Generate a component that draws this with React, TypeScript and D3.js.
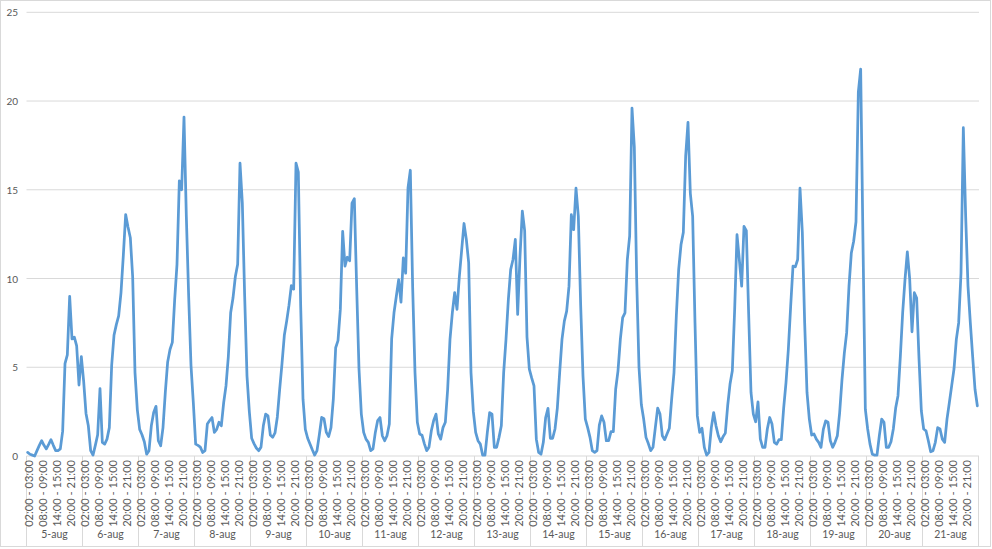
import { line, range, scaleBand, scaleLinear } from "d3";

const dayLabels = [
  "5-aug", "6-aug", "7-aug", "8-aug", "9-aug", "10-aug", "11-aug", "12-aug", "13-aug",
  "14-aug", "15-aug", "16-aug", "17-aug", "18-aug", "19-aug", "20-aug", "21-aug",
];

const hourLabels = [
  "02:00 - 03:00", "03:00 - 04:00", "04:00 - 05:00", "05:00 - 06:00", "06:00 - 07:00", "07:00 - 08:00",
  "08:00 - 09:00", "09:00 - 10:00", "10:00 - 11:00", "11:00 - 12:00", "12:00 - 13:00", "13:00 - 14:00",
  "14:00 - 15:00", "15:00 - 16:00", "16:00 - 17:00", "17:00 - 18:00", "18:00 - 19:00", "19:00 - 20:00",
  "20:00 - 21:00", "21:00 - 22:00", "22:00 - 23:00", "23:00 - 00:00", "00:00 - 01:00", "01:00 - 02:00",
];

const yTicks = [0, 5, 10, 15, 20, 25];

// one array per day, 24 hourly values each
const aug05 = [0.2, 0.1, 0.05, 0.0, 0.3, 0.6, 0.86, 0.6, 0.4, 0.65, 0.92, 0.6, 0.3, 0.3, 0.4, 1.4, 5.2, 5.7, 9.0, 6.6, 6.7, 6.2, 4.0, 5.6];
const aug06 = [4.2, 2.4, 1.7, 0.3, 0.05, 0.6, 1.2, 3.8, 0.77, 0.67, 0.95, 1.6, 5.1, 6.8, 7.4, 7.9, 9.2, 11.3, 13.6, 12.9, 12.3, 10.1, 4.7, 2.6];
const aug07 = [1.5, 1.2, 0.8, 0.1, 0.3, 1.7, 2.45, 2.8, 0.86, 0.58, 1.6, 3.6, 5.3, 6.0, 6.4, 8.8, 10.8, 15.5, 15.0, 19.1, 13.5, 9.0, 5.1, 3.0];
const aug08 = [0.67, 0.6, 0.5, 0.2, 0.3, 1.8, 2.0, 2.17, 1.33, 1.5, 1.9, 1.7, 3.0, 3.95, 5.6, 8.07, 8.9, 10.1, 10.8, 16.5, 14.25, 9.0, 4.5, 2.5];
const aug09 = [1.0, 0.7, 0.45, 0.3, 0.5, 1.7, 2.36, 2.26, 1.18, 1.05, 1.3, 2.2, 3.76, 5.2, 6.8, 7.6, 8.5, 9.6, 9.4, 16.5, 16.0, 8.5, 3.2, 1.5];
const aug10 = [1.0, 0.67, 0.35, 0.05, 0.3, 1.2, 2.17, 2.1, 1.33, 1.1, 1.6, 3.2, 6.1, 6.5, 8.26, 12.66, 10.7, 11.2, 11.0, 14.25, 14.5, 9.5, 4.9, 2.36];
const aug11 = [1.33, 0.95, 0.77, 0.3, 0.4, 1.33, 2.0, 2.17, 1.14, 0.86, 1.14, 1.8, 6.6, 8.07, 9.0, 9.94, 8.67, 11.16, 10.3, 15.1, 16.1, 9.5, 4.7, 1.9];
const aug12 = [1.24, 1.17, 0.7, 0.3, 0.5, 1.42, 2.0, 2.36, 1.24, 0.95, 1.6, 1.9, 3.76, 6.57, 8.07, 9.2, 8.26, 10.1, 11.6, 13.1, 12.2, 10.9, 4.7, 2.5];
const aug13 = [1.33, 0.86, 0.67, 0.05, 0.05, 1.33, 2.45, 2.36, 0.49, 0.49, 1.05, 1.7, 4.7, 6.57, 8.8, 10.5, 11.07, 12.2, 7.98, 11.25, 13.8, 12.7, 6.7, 4.9];
const aug14 = [4.4, 3.95, 0.95, 0.2, 0.1, 0.77, 2.17, 2.68, 1.0, 1.0, 1.52, 2.7, 4.7, 6.57, 7.6, 8.16, 9.57, 13.6, 12.75, 15.1, 13.5, 8.5, 4.5, 2.08];
const aug15 = [1.6, 1.05, 0.3, 0.2, 0.3, 1.74, 2.26, 1.9, 0.86, 0.86, 1.37, 1.37, 3.76, 4.8, 6.57, 7.8, 8.07, 11.07, 12.4, 19.6, 17.4, 10.0, 5.0, 2.9];
const aug16 = [2.08, 1.05, 0.7, 0.3, 0.49, 1.6, 2.7, 2.36, 1.14, 0.92, 1.24, 1.56, 3.2, 4.7, 7.9, 10.5, 11.9, 12.6, 16.9, 18.8, 14.8, 13.5, 7.5, 2.26];
const aug17 = [1.33, 1.56, 0.49, 0.05, 0.2, 1.6, 2.45, 1.7, 1.14, 0.8, 1.08, 1.29, 2.83, 4.04, 4.8, 8.26, 12.47, 11.07, 9.57, 12.94, 12.7, 8.0, 3.58, 2.36];
const aug18 = [1.93, 3.05, 0.95, 0.49, 0.49, 1.52, 2.17, 1.8, 0.77, 0.67, 0.92, 0.92, 2.7, 4.14, 6.0, 8.44, 10.7, 10.66, 11.07, 15.1, 12.6, 7.5, 3.58, 2.08];
const aug19 = [1.18, 1.24, 0.95, 0.77, 0.49, 1.5, 1.98, 1.9, 0.86, 0.49, 0.77, 1.14, 2.45, 4.3, 5.8, 6.95, 9.57, 11.44, 12.1, 13.2, 20.5, 21.8, 12.0, 2.64];
const aug20 = [1.52, 0.67, 0.1, 0.05, 0.05, 1.14, 2.08, 1.9, 0.49, 0.49, 0.8, 1.52, 2.7, 3.4, 5.6, 8.07, 9.94, 11.5, 10.0, 7.0, 9.2, 8.9, 5.5, 2.55];
const aug21 = [1.52, 1.42, 0.86, 0.24, 0.3, 0.77, 1.6, 1.52, 0.95, 0.77, 2.08, 3.0, 3.95, 4.9, 6.57, 7.5, 10.3, 18.5, 13.5, 9.57, 7.5, 5.6, 3.76, 2.83];

const days = [aug05, aug06, aug07, aug08, aug09, aug10, aug11, aug12, aug13, aug14, aug15, aug16, aug17, aug18, aug19, aug20, aug21];

const WIDTH = 992;
const HEIGHT = 549;
const left = 26.5;
const right = 978.5;
const top = 12.3;
const bottom = 456;
const textColor = "#595959";
const gridColor = "#d9d9d9";
const font = "Lato, 'Open Sans', sans-serif";

const App = () => {
  const series = days.flat();
  const perDay = hourLabels.length;

  const x = scaleBand<number>()
    .domain(range(series.length))
    .range([left, right]);
  const xDay = scaleBand<string>().domain(dayLabels).range([left, right]);
  const y = scaleLinear().domain([0, 25]).range([bottom, top]);

  const path = line<number>()
    .x((_, i) => (x(i) ?? 0) + x.bandwidth() / 2)
    .y((d) => y(d))(series);

  return (
    <div style={{ position: "fixed", left: 0, top: 0, background: "#fff" }}>
      <svg width={WIDTH} height={HEIGHT} style={{ display: "block" }}>
        <rect x={0.5} y={0.5} width={990} height={546} fill="#fff" stroke={gridColor} />

        {yTicks.map((t) => (
          <g key={t}>
            <line x1={left} x2={right + 0.5} y1={y(t)} y2={y(t)} stroke={gridColor} strokeWidth={1} />
            <text
              x={18}
              y={y(t)}
              textAnchor="end"
              dominantBaseline="central"
              fontFamily={font}
              fontSize={10}
              fill={textColor}
            >
              {t}
            </text>
          </g>
        ))}

        {/* day separators */}
        {dayLabels.map((d) => (
          <line
            key={d}
            x1={xDay(d)}
            x2={xDay(d)}
            y1={bottom}
            y2={546}
            stroke={gridColor}
          />
        ))}
        <line x1={right} x2={right} y1={bottom} y2={546} stroke={gridColor} />

        {/* hour labels */}
        {series.map((_, i) =>
          i % 6 === 0 ? (
            <text
              key={i}
              transform={`translate(${(x(i) ?? 0) + x.bandwidth() / 2 + 0.5},${bottom + 4}) rotate(-90)`}
              textAnchor="end"
              dominantBaseline="central"
              fontFamily={font}
              fontSize={11.1}
              fill={textColor}
            >
              {hourLabels[i % perDay]}
            </text>
          ) : null
        )}

        {/* day labels */}
        {dayLabels.map((d) => (
          <text
            key={d}
            x={(xDay(d) ?? 0) + xDay.bandwidth() / 2}
            y={538}
            textAnchor="middle"
            fontFamily={font}
            fontSize={10.5}
            fill={textColor}
          >
            {d}
          </text>
        ))}

        <path
          d={path ?? ""}
          fill="none"
          stroke="#5B9BD5"
          strokeWidth={2.75}
          strokeLinejoin="round"
          strokeLinecap="round"
        />
      </svg>
    </div>
  );
};

export default App;
